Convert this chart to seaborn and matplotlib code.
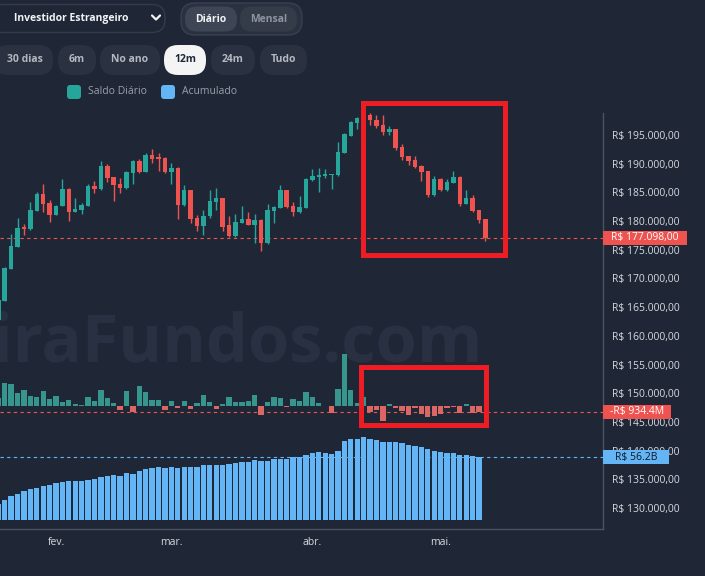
import matplotlib
matplotlib.use("Agg")
import numpy as np
import matplotlib.pyplot as plt
import seaborn as sns
from matplotlib.patches import FancyBboxPatch, Rectangle
from matplotlib.lines import Line2D
from matplotlib.transforms import IdentityTransform, blended_transform_factory

# ---------------- dados ----------------
# candles do índice (R$)
opens = [162800, 166100, 171700, 175500, 178900, 178600, 181800, 184700, 183100, 181100,
         182700, 185600, 181600, 181900, 182700, 186100, 185600, 189600, 187600, 186500,
         185800, 188300, 190500, 188600, 191500, 191200, 191000, 188600, 189200, 182800,
         185400, 180500, 179200, 180800, 183300, 184000, 179300, 177400, 179700, 180400,
         179400, 180200, 176100, 181800, 182300, 185400, 182600, 181500, 182300, 187200,
         187600, 187900, 188000, 188000, 191900, 194900, 197100, 197800, 198500, 197700,
         196700, 195500, 196000, 192900, 191300, 190600, 189600, 188700, 184500, 187300,
         185400, 186700, 187700, 183000, 184100, 181900, 180300]
highs = [166300, 172000, 177700, 180600, 179500, 183300, 185000, 186500, 183700, 182800,
         187300, 185700, 184000, 183200, 186500, 187000, 190500, 189900, 187700, 187500,
         188700, 190600, 190900, 191800, 192600, 191900, 191100, 190100, 189500, 186300,
         185500, 181100, 181900, 185400, 185700, 184100, 180900, 181200, 182600, 181600,
         181200, 180300, 183000, 182600, 186300, 185500, 183300, 184400, 187500, 189100,
         189200, 189100, 188200, 193700, 195300, 197400, 198100, 198600, 198800, 198500,
         198500, 196600, 196100, 193400, 191400, 191300, 189700, 188800, 187900, 187500,
         187300, 188700, 187800, 185500, 184500, 182000, 180400]
lows = [162500, 166000, 171600, 175400, 177600, 178500, 181700, 181500, 179900, 181000,
        182600, 180100, 181500, 181300, 182600, 184900, 185500, 186800, 183500, 184900,
        185600, 186500, 188300, 188500, 190200, 188700, 188300, 186500, 180400, 182700,
        179700, 178300, 177500, 180500, 181900, 178300, 177200, 177300, 179600, 179300,
        176100, 174800, 176000, 179700, 182200, 182300, 180800, 181400, 182200, 187000,
        185100, 187500, 185600, 187900, 191800, 194800, 196000, 197700, 196700, 196200,
        195000, 195000, 192400, 190600, 189700, 189300, 187000, 184200, 184400, 185200,
        185300, 186600, 182700, 182900, 181500, 179700, 176600]
closes = [166200, 171900, 175700, 178800, 178600, 181900, 184700, 183000, 181100, 182700,
          185600, 181600, 182100, 182800, 186100, 185600, 189600, 187500, 186300, 185800,
          188500, 190500, 188500, 191500, 190900, 190800, 188600, 189200, 182800, 185400,
          180300, 179200, 180800, 183500, 184000, 179000, 177400, 179800, 180400, 179400,
          180200, 176100, 181900, 182500, 185400, 182500, 181500, 182500, 187400, 187900,
          188000, 188200, 188200, 192100, 195100, 197300, 197900, 198500, 197600, 196600,
          195500, 196000, 192800, 191200, 190500, 189500, 188500, 184500, 187300, 185400,
          186800, 187700, 183000, 184100, 181800, 180200, 177098]

# saldo diário do investidor estrangeiro (R$ milhões)
saldo_diario = [1200, 3700, 3500, 2100, 2450, 1600, 1450, 2350, 1070, 1600,
                640, 900, 210, 160, 1330, 750, 2500, 1170, 480, -690,
                2350, -1010, 3100, 2200, 900, 900, -700, 750, -430, 750,
                -530, 430, 1650, 590, -530, 270, 1330, 590, 590, 750,
                1700, -1440, 590, 1330, 1170, -270, 1010, 750, 2190, 1440,
                430, -110, -1120, 2610, 8260, 2450, 430, 1330, -960, -640,
                -2400, 210, -370, -850, -1550, -370, -1280, -1870, -1710, -1390,
                -430, -270, -1120, 210, -1120, -934.4]

# acumulado (R$ bilhões)
acumulado = [14.3, 17.9, 21.2, 23.3, 26.0, 27.5, 28.4, 30.8, 31.7, 33.2,
             33.8, 35.0, 35.0, 35.0, 35.9, 36.8, 38.9, 39.8, 40.4, 39.5,
             42.1, 41.2, 43.9, 46.0, 46.9, 47.8, 46.9, 47.8, 46.9, 47.8,
             47.5, 47.8, 49.3, 49.3, 49.3, 49.3, 50.2, 51.1, 51.7, 51.7,
             53.5, 52.6, 52.9, 54.4, 55.0, 55.0, 56.2, 56.8, 58.3, 59.8,
             60.7, 59.8, 58.9, 61.6, 70.5, 72.6, 72.6, 74.4, 72.6, 71.7,
             69.6, 69.6, 69.6, 68.7, 67.3, 66.4, 65.5, 63.4, 61.6, 60.7,
             59.8, 59.8, 58.0, 58.0, 57.1, 56.2]

month_pos = [9, 27, 49, 69]
month_labels = ["fev.", "mar.", "abr.", "mai."]
price_ticks = list(range(130000, 200000, 5000))
last_price = 177098.0
last_saldo = -934.4
last_acum = 56.2

# ---------------- estilo ----------------
BG = "#1f2737"
TEAL = "#26a69a"
RED = "#ef5350"
BLUE = "#64b5f6"
W, H = 705, 576

sns.set_theme(style="dark", rc={"figure.facecolor": BG, "axes.facecolor": "none",
                                "savefig.facecolor": BG})
plt.rcParams["font.family"] = ["Open Sans", "DejaVu Sans"]

fig = plt.figure(figsize=(W / 100, H / 100), dpi=100)
rect = [0, 47 / H, 603 / W, 416 / H]
ax = fig.add_axes(rect)
ax_d = fig.add_axes(rect, sharex=ax)
ax_a = fig.add_axes(rect, sharex=ax)

# marca d'água
fig.text(482 / W, 1 - 361 / H, "PeneiraFundos.com", ha="right", va="baseline",
         fontsize=48, weight="bold", color="#283042", zorder=-1)

# ---------------- candles ----------------
x = np.arange(len(opens))
o = np.array(opens, dtype=float)
c = np.array(closes, dtype=float)
cols = np.where(c >= o, TEAL, RED)
ax.vlines(x, lows, highs, colors=cols, lw=1, zorder=3)
ax.bar(x, c - o, bottom=o, width=0.7, color=cols, linewidth=0, zorder=4)
ax.axhline(last_price, color=RED, lw=0.8, ls=(0, (3, 3)), zorder=2)
ax.set_ylim(126342, 198834)

# ---------------- saldo diário ----------------
xd = np.arange(len(saldo_diario))
lado = ["pos" if v >= 0 else "neg" for v in saldo_diario]
sns.barplot(x=xd, y=saldo_diario, hue=lado, palette={"pos": TEAL, "neg": RED},
            dodge=False, legend=False, native_scale=True, width=0.83,
            errorbar=None, linewidth=0, ax=ax_d, zorder=3)
ax_d.axhline(last_saldo, color=RED, lw=0.8, ls=(0, (3, 3)), zorder=1)
ax_d.set_ylim(-19728, 46832)

# ---------------- acumulado ----------------
xa = np.arange(len(acumulado))
sns.barplot(x=xa, y=acumulado, color=BLUE, native_scale=True, width=0.83,
            errorbar=None, linewidth=0, saturation=1, ax=ax_a, zorder=3)
ax_a.axhline(last_acum, color=BLUE, lw=0.8, ls=(0, (3, 3)), zorder=1)
ax_a.set_ylim(-8.07, 365.0)

for a in (ax_d, ax_a):
    a.axis("off")


def tag(axis, value, text, w_px, fc, tc):
    y0, y1 = axis.get_ylim()
    h = 14 / 416 * (y1 - y0)
    tr = blended_transform_factory(axis.transAxes, axis.transData)
    w = w_px / 603
    axis.add_patch(Rectangle((1.0, value - h / 2), w, h, transform=tr, facecolor=fc,
                             edgecolor="none", clip_on=False, zorder=5))
    axis.text(1.0 + w / 2, value, text, transform=tr, ha="center", va="center",
              fontsize=7.5, color=tc, zorder=6, clip_on=False)


tag(ax, last_price, "R$ 177.098,00", 84, RED, "white")
tag(ax_d, last_saldo, "-R$ 934.4M", 68, RED, "white")
tag(ax_a, last_acum, "R$ 56.2B", 66, BLUE, "#131722")

# ---------------- eixos ----------------
ax.set_xlim(0.265, 94.34)
ax.yaxis.tick_right()
ax.set_yticks(price_ticks)
ax.set_yticklabels([f"R$ {v:,.2f}".replace(",", "X").replace(".", ",").replace("X", ".")
                    for v in price_ticks])
ax.set_xticks(month_pos)
ax.set_xticklabels(month_labels)
ax.tick_params(axis="y", length=0, pad=6.5, labelsize=7.5, labelcolor="#d6d9df")
ax.tick_params(axis="x", length=0, pad=5.5, labelsize=7.5, labelcolor="#d6d9df")
ax.grid(False)
for s in ("left", "top"):
    ax.spines[s].set_visible(False)
for s in ("right", "bottom"):
    ax.spines[s].set_color("#4b5263")
    ax.spines[s].set_linewidth(1)

# ---------------- controles do topo ----------------
ID = IdentityTransform()


def pill(x0, y0, x1, y1, fc, ec="none", r=8, lw=1):
    p = FancyBboxPatch((x0, H - y1), x1 - x0, y1 - y0,
                       boxstyle=f"round,pad=0,rounding_size={r}", transform=ID,
                       facecolor=fc, edgecolor=ec, linewidth=lw, zorder=2)
    fig.add_artist(p)


def label(xp, yp, s, size=7.5, color="#b4b8c0", weight="bold", ha="center"):
    fig.text(xp / W, 1 - yp / H, s, ha=ha, va="center", fontsize=size,
             color=color, weight=weight, zorder=3)


pill(-12, 4.5, 165, 32.5, BG, "#343c4c", r=13)
label(14, 18.5, "Investidor Estrangeiro", color="#f2f3f5", ha="left")
fig.add_artist(Line2D([152, 156, 160], [H - 15.5, H - 19.5, H - 15.5], transform=ID,
                      color="#f2f3f5", lw=1.6, solid_capstyle="round", zorder=3))

pill(181, 3, 302, 35, "#2a3140", "#394151", r=14)
pill(185, 6.5, 237, 31.5, "#3e4655", r=12)
pill(240, 6.5, 297, 31.5, "#343b49", r=12)
label(211, 19, "Diário", color="#f2f3f5")
label(268.5, 19, "Mensal", color="#8f95a0")

botoes = [(-6, 53, "30 dias"), (58, 96, "6m"), (100, 160, "No ano"),
          (164, 206, "12m"), (211, 255, "24m"), (260, 307, "Tudo")]
for x0, x1, s in botoes:
    ativo = s == "12m"
    pill(x0, 45, x1, 75, "#f4f4f5" if ativo else "#2a3140", r=14)
    label((x0 + x1) / 2 if x0 > 0 else 24.5, 60, s,
          color="#1f2737" if ativo else "#b4b8c0")

pill(67, 85, 81, 99, TEAL, r=3)
label(88, 92, "Saldo Diário", color="#9aa0a9", weight="normal", ha="left")
pill(161, 85, 175, 99, BLUE, r=3)
label(182, 92, "Acumulado", color="#9aa0a9", weight="normal", ha="left")

# destaques em vermelho
for x0, y0, x1, y1 in [(362.5, 102.5, 504.5, 255.2), (360.8, 366.5, 486.2, 425.2)]:
    fig.add_artist(Rectangle((x0, H - y1), x1 - x0, y1 - y0, transform=ID,
                             facecolor="none", edgecolor="#ee1d23", linewidth=3.6,
                             joinstyle="miter", zorder=10))

fig.savefig("out.png", dpi=100, facecolor=BG)
